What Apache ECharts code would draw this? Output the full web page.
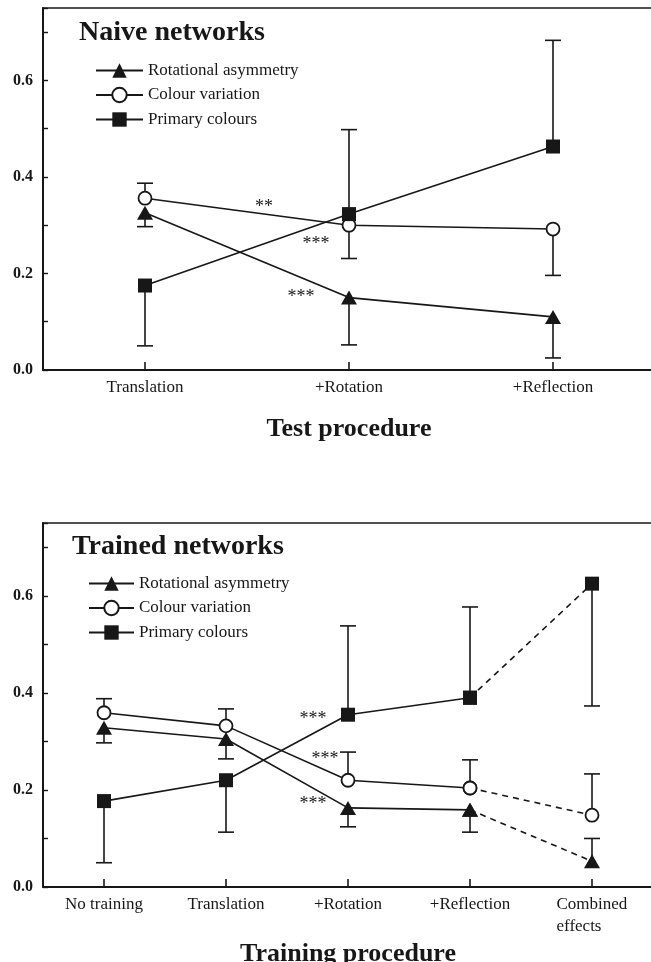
<!DOCTYPE html>
<html><head><meta charset="utf-8">
<script src="https://cdn.jsdelivr.net/npm/echarts@6/dist/echarts.min.js"></script>
<style>html,body{margin:0;padding:0;background:#fff}#c{width:651px;height:962px}</style>
</head><body><div id="c"></div>
<script>
// ---------- data ----------
const seriesNames = ['Rotational asymmetry', 'Colour variation', 'Primary colours'];

const naiveCategories = ['Translation', '+Rotation', '+Reflection'];
const naiveRotational = [0.326, 0.150, 0.110];
const naiveRotationalErr = [0.297, 0.052, 0.025];
const naiveColour = [0.356, 0.300, 0.292];
const naiveColourErr = [0.387, 0.231, 0.196];
const naivePrimary = [0.175, 0.323, 0.463];
const naivePrimaryErr = [0.050, 0.498, 0.683];

const trainedCategories = ['No training', 'Translation', '+Rotation', '+Reflection', 'Combined\neffects'];
const trainedRotational = [0.328, 0.305, 0.163, 0.159, 0.053];
const trainedRotationalErr = [0.297, 0.264, 0.124, 0.113, 0.100];
const trainedColour = [0.359, 0.332, 0.220, 0.204, 0.148];
const trainedColourErr = [0.388, 0.367, 0.278, 0.262, 0.233];
const trainedPrimary = [0.177, 0.220, 0.355, 0.390, 0.625];
const trainedPrimaryErr = [0.050, 0.113, 0.538, 0.577, 0.373];

const yTickLabels = ['0.0', '0.2', '0.4', '0.6'];
const naiveStars = ['**', '***', '***'];
const trainedStars = ['***', '***', '***'];

// ---------- styling ----------
const FONT = '"Liberation Serif","Times New Roman",serif';
const INK = '#171717';
const LW = 1.6;
const markers = [
  { symbol: 'triangle', symbolSize: [16, 14], itemStyle: { color: INK } },
  { symbol: 'circle', symbolSize: 13, itemStyle: { color: '#fff', borderColor: INK, borderWidth: 1.8 } },
  { symbol: 'rect', symbolSize: 14, itemStyle: { color: INK } }
];

function errRender(params, api) {
  const x = api.value(0), y = api.value(1), e = api.value(2);
  const p = api.coord([x, y]), q = api.coord([x, e]);
  const w = 8;
  return { type: 'group', children: [
    { type: 'line', shape: { x1: p[0], y1: p[1], x2: q[0], y2: q[1] }, style: { stroke: INK, lineWidth: LW } },
    { type: 'line', shape: { x1: q[0] - w, y1: q[1], x2: q[0] + w, y2: q[1] }, style: { stroke: INK, lineWidth: LW } }
  ]};
}

function lineSeries(name, data, gi, k, dashed) {
  return Object.assign({
    type: 'line', name: name, data: data, xAxisIndex: gi, yAxisIndex: gi,
    lineStyle: { color: INK, width: LW, type: dashed ? [6, 5] : 'solid' },
    z: 3, animation: false, connectNulls: false
  }, markers[k]);
}
function errSeries(name, vals, errs, gi) {
  return {
    type: 'custom', name: name, xAxisIndex: gi, yAxisIndex: gi, z: 2, animation: false,
    renderItem: errRender, encode: { x: 0, y: [1, 2] },
    data: vals.map((v, i) => [i, v, errs[i]])
  };
}

const naiveSets = [[naiveRotational, naiveRotationalErr], [naiveColour, naiveColourErr], [naivePrimary, naivePrimaryErr]];
const trainedSets = [[trainedRotational, trainedRotationalErr], [trainedColour, trainedColourErr], [trainedPrimary, trainedPrimaryErr]];

const series = [];
naiveSets.forEach((s, k) => {
  series.push(errSeries('err-n' + k, s[0], s[1], 0));
  series.push(lineSeries(seriesNames[k], s[0], 0, k, false));
});
trainedSets.forEach((s, k) => {
  const n = s[0].length;
  series.push(errSeries('err-t' + k, s[0], s[1], 1));
  series.push(lineSeries(seriesNames[k], s[0].map((v, i) => i < n - 1 ? v : '-'), 1, k, false));
  series.push(lineSeries(seriesNames[k] + ' (combined)', s[0].map((v, i) => i >= n - 2 ? v : '-'), 1, k, true));
});

function yAxis(gi) {
  return {
    type: 'value', gridIndex: gi, min: 0, max: 0.75, interval: 0.1,
    axisLine: { show: true, lineStyle: { color: INK, width: 2 } },
    axisTick: { show: true, inside: true, length: 5, lineStyle: { color: INK, width: 1.4 } },
    splitLine: { show: false },
    axisLabel: {
      margin: 10, fontFamily: FONT, fontWeight: 'bold', fontSize: 16, color: INK,
      formatter: v => { const m = Math.round(v * 100); return (m % 20 === 0 && m <= 60) ? yTickLabels[m / 20] : ''; }
    }
  };
}
function xAxis(gi, cats, name, gap) {
  return {
    type: 'category', gridIndex: gi, data: cats, boundaryGap: true,
    axisLine: { show: true, lineStyle: { color: INK, width: 2 } },
    axisTick: { show: true, inside: true, alignWithLabel: true, length: 8, lineStyle: { color: INK, width: 1.6 } },
    axisLabel: {
      margin: 7, fontFamily: FONT, fontSize: 17, color: INK, lineHeight: 22, interval: 0,
      formatter: v => v.indexOf('\n') >= 0 ? v.split('\n').map(t => '{l|' + t + '}').join('\n') : v,
      rich: { l: { width: 71, align: 'left', fontFamily: FONT, fontSize: 17, color: INK, lineHeight: 22 } }
    },
    name: name, nameLocation: 'middle', nameGap: gap,
    nameTextStyle: { fontFamily: FONT, fontWeight: 'bold', fontSize: 26, color: INK }
  };
}
function topAxis(gi, cats) {
  return {
    type: 'category', gridIndex: gi, data: cats, position: 'top',
    axisLine: { show: true, lineStyle: { color: INK, width: 1.6 } },
    axisTick: { show: false }, axisLabel: { show: false }, splitLine: { show: false }
  };
}

function legend(left, top, width) {
  return {
    data: seriesNames, orient: 'vertical', left: left, top: top, padding: 0,
    itemWidth: width, itemHeight: 18, itemGap: 7.5, selectedMode: false,
    textStyle: { fontFamily: FONT, fontSize: 17, color: INK }
  };
}

function stars(list, pos) {
  return list.map((t, i) => ({
    type: 'text', x: pos[i][0], y: pos[i][1] + 2, z: 10,
    style: { text: t, font: '18px ' + FONT, fill: INK, textAlign: 'center', textVerticalAlign: 'middle' }
  }));
}

const option = {
  backgroundColor: '#fff',
  animation: false,
  title: [
    { text: 'Naive networks', left: 79, top: 19, padding: 0,
      textStyle: { fontFamily: FONT, fontWeight: 'bold', fontSize: 28, color: INK } },
    { text: 'Trained networks', left: 72, top: 533, padding: 0,
      textStyle: { fontFamily: FONT, fontWeight: 'bold', fontSize: 28, color: INK } }
  ],
  legend: [legend(95, 62, 47), legend(88, 575, 45)],
  grid: [
    { left: 43, top: 8, width: 612, height: 362, outerBoundsMode: 'none', containLabel: false },
    { left: 43, top: 523, width: 610, height: 364, outerBoundsMode: 'none', containLabel: false }
  ],
  xAxis: [
    xAxis(0, naiveCategories, 'Test procedure', 46),
    xAxis(1, trainedCategories, 'Training procedure', 54),
    topAxis(0, naiveCategories),
    topAxis(1, trainedCategories)
  ],
  yAxis: [yAxis(0), yAxis(1)],
  graphic: stars(naiveStars, [[264, 205], [316, 242], [301, 295]])
    .concat(stars(trainedStars, [[313, 717], [325, 757], [313, 802]])),
  series: series
};

const chart = echarts.init(document.getElementById('c'), null, { renderer: 'canvas' });
chart.setOption(option);
</script></body></html>
